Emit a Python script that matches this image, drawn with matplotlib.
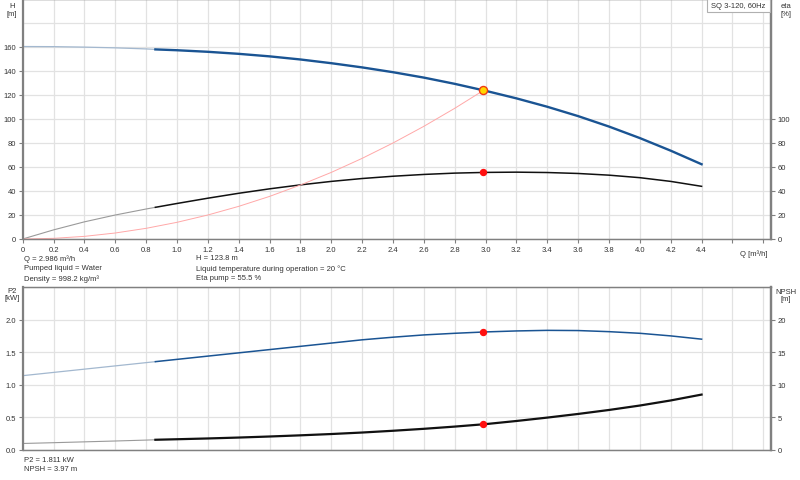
import matplotlib
matplotlib.use("Agg")
import matplotlib.pyplot as plt
from matplotlib.patches import Rectangle

plt.rcParams['font.family'] = ['Liberation Sans', 'DejaVu Sans']

# flow points [m3/h]
q = [0, 0.2, 0.4, 0.6, 0.8, 0.86, 1.0, 1.2, 1.4, 1.6, 1.8, 2.0, 2.2, 2.4,
     2.6, 2.8, 3.0, 3.2, 3.4, 3.6, 3.8, 4.0, 4.2, 4.4]
head = [160.4, 160.3, 159.9, 159.3, 158.4, 158.0, 157.3, 156.0, 154.3, 152.2,
        149.6, 146.5, 143.0, 139.0, 134.5, 129.3, 123.5, 117.2, 110.2, 102.4,
        93.7, 84.1, 73.6, 62.3]
eta = [0, 7.6, 14.3, 20.0, 25.0, 26.4, 29.6, 34.0, 38.1, 41.8, 45.1, 48.0,
       50.4, 52.3, 53.8, 54.9, 55.5, 55.7, 55.4, 54.6, 53.2, 51.1, 48.0, 43.9]
p2 = [1.14, 1.19, 1.24, 1.29, 1.34, 1.355, 1.39, 1.44, 1.49, 1.54, 1.59, 1.64,
      1.69, 1.73, 1.765, 1.79, 1.811, 1.826, 1.835, 1.832, 1.815, 1.79, 1.75, 1.70]
npsh = [1.0, 1.12, 1.25, 1.38, 1.52, 1.57, 1.65, 1.77, 1.91, 2.07, 2.25, 2.45,
        2.68, 2.95, 3.25, 3.59, 3.97, 4.45, 4.97, 5.53, 6.14, 6.82, 7.6, 8.5]

# system curve through the duty point
q_sys = [0, 0.2, 0.4, 0.6, 0.8, 1.0, 1.2, 1.4, 1.6, 1.8, 2.0, 2.2, 2.4, 2.6, 2.8, 2.986]
h_sys = [0, 0.55, 2.2, 5.0, 8.9, 13.9, 20.0, 27.2, 35.5, 45.0, 55.5, 67.2, 80.0,
         93.9, 108.9, 123.8]

q_op, h_op, eta_op, p2_op, npsh_op = 2.986, 123.8, 55.5, 1.811, 3.97
q_min = 0.86

xticks = [0, 0.2, 0.4, 0.6, 0.8, 1.0, 1.2, 1.4, 1.6, 1.8, 2.0, 2.2, 2.4, 2.6,
          2.8, 3.0, 3.2, 3.4, 3.6, 3.8, 4.0, 4.2, 4.4, 4.6, 4.8]
xlabels = ['0' if t == 0 else '%.1f' % t for t in xticks[:-2]] + ['', '']

BLUE = '#1a5493'
GRID = '#e2e2e2'
SPINE = '#808080'
TC = '#333333'
FS = 5.5

k = q.index(q_min)

fig = plt.figure(figsize=(8, 4.81), dpi=100)
W, H = 800, 481


def box(x0, y0, x1, y1):
    return [x0 / W, 1 - y1 / H, (x1 - x0) / W, (y1 - y0) / H]


def style(ax, tw, yt, ytl, ytw, ytwl, xlab):
    ax.set_xlim(0, 4.848)
    ax.set_xticks(xticks)
    ax.set_xticklabels(xlabels if xlab else [''] * len(xticks))
    ax.set_yticks(yt)
    ax.set_yticklabels(ytl)
    tw.set_yticks(ytw)
    tw.set_yticklabels(ytwl)
    ax.grid(True, color=GRID, lw=0.9)
    ax.set_axisbelow(True)
    for a in (ax, tw):
        a.tick_params(labelsize=FS, length=3, width=0.8, color=SPINE, pad=2,
                      labelcolor=TC)
        for s in a.spines.values():
            s.set_color(SPINE)
            s.set_linewidth(0.9)
        a.spines['left'].set_linewidth(1.6)
        a.spines['right'].set_linewidth(1.6)
    tw.spines['left'].set_visible(False)


# ---- top chart: head / efficiency
ax1 = fig.add_axes(box(22.7, 0, 770.7, 240))
tw1 = ax1.twinx()
ax1.set_ylim(0, 200)
tw1.set_ylim(0, 200)
style(ax1, tw1, list(range(0, 201, 20)),
      [str(v) if v <= 160 else '' for v in range(0, 201, 20)],
      list(range(0, 101, 20)), [str(v) for v in range(0, 101, 20)], True)
for t in ax1.yaxis.get_major_ticks()[-2:]:
    t.tick1line.set_visible(False)

ax1.plot(q[:k + 1], head[:k + 1], color='#a3b8cf', lw=0.9)
ax1.plot(q[k:], head[k:], color=BLUE, lw=1.7)
ax1.plot(q[:k + 1], eta[:k + 1], color='#9a9a9a', lw=0.8)
ax1.plot(q[k:], eta[k:], color='#111111', lw=1.1)
ax1.plot(q_sys, h_sys, color='#ffa8a8', lw=0.7)
ax1.plot([q_op], [eta_op], 'o', ms=4.3, color='#ff1010', mec='#ff1010')
ax1.plot([q_op], [h_op], 'o', ms=5.8, color='#ffd700', mec='#f03c14', mew=1)
ax1.text(4.825, -8.5, 'Q [m³/h]', fontsize=FS, ha='right', va='top', color=TC)

# ---- bottom chart: power / NPSH
ax2 = fig.add_axes(box(22.7, 288, 770.7, 451))
tw2 = ax2.twinx()
ax2.set_ylim(0, 2.5)
tw2.set_ylim(0, 25)
style(ax2, tw2, [0, 0.5, 1.0, 1.5, 2.0, 2.5], ['0.0', '0.5', '1.0', '1.5', '2.0', ''],
      [0, 5, 10, 15, 20], ['0', '5', '10', '15', '20'], False)
ax2.yaxis.get_major_ticks()[-1].tick1line.set_visible(False)
ax2.tick_params(axis='x', length=0)

p2_npsh = [v / 10 for v in npsh]
ax2.plot(q[:k + 1], p2[:k + 1], color='#a3b8cf', lw=0.9)
ax2.plot(q[k:], p2[k:], color=BLUE, lw=1.1)
ax2.plot(q[:k + 1], p2_npsh[:k + 1], color='#9a9a9a', lw=0.8)
ax2.plot(q[k:], p2_npsh[k:], color='#111111', lw=1.6)
ax2.plot([q_op], [p2_op], 'o', ms=4.3, color='#ff1010')
ax2.plot([q_op], [npsh_op / 10], 'o', ms=4.3, color='#ff1010')

# ---- axis titles and info text
for x, y, s in [(12, 10.5, 'H\n[m]'), (786, 10.5, 'eta\n[%]'),
                (12, 295, 'P2\n[kW]'), (786, 296, 'NPSH\n[m]')]:
    fig.text(x / W, 1 - y / H, s, fontsize=FS, ha='center', va='center', color=TC,
             linespacing=1.15)

fig.patches.append(Rectangle((707 / W, 1 - 12.7 / H), 63 / W, 12.7 / H,
                             transform=fig.transFigure, fc='white', ec='#b0b0b0',
                             lw=0.8, zorder=5))
fig.text(738.5 / W, 1 - 6.5 / H, 'SQ 3-120, 60Hz', fontsize=FS, ha='center',
         va='center', color=TC, zorder=6)

col1 = ['Q = 2.986 m³/h', 'Pumped liquid = Water', 'Density = 998.2 kg/m³']
col2 = ['H = 123.8 m', 'Liquid temperature during operation = 20 °C', 'Eta pump = 55.5 %']
for i, (a, b) in enumerate(zip(col1, col2)):
    y = 1 - (259 + 10 * i) / H
    fig.text(24 / W, y, a, fontsize=FS, va='center', color=TC)
    fig.text(196 / W, y, b, fontsize=FS, va='center', color=TC)
fig.text(24 / W, 1 - 461 / H, 'P2 = 1.811 kW', fontsize=FS, va='center', color=TC)
fig.text(24 / W, 1 - 470 / H, 'NPSH = 3.97 m', fontsize=FS, va='center', color=TC)

fig.savefig('out.png', dpi=100)
